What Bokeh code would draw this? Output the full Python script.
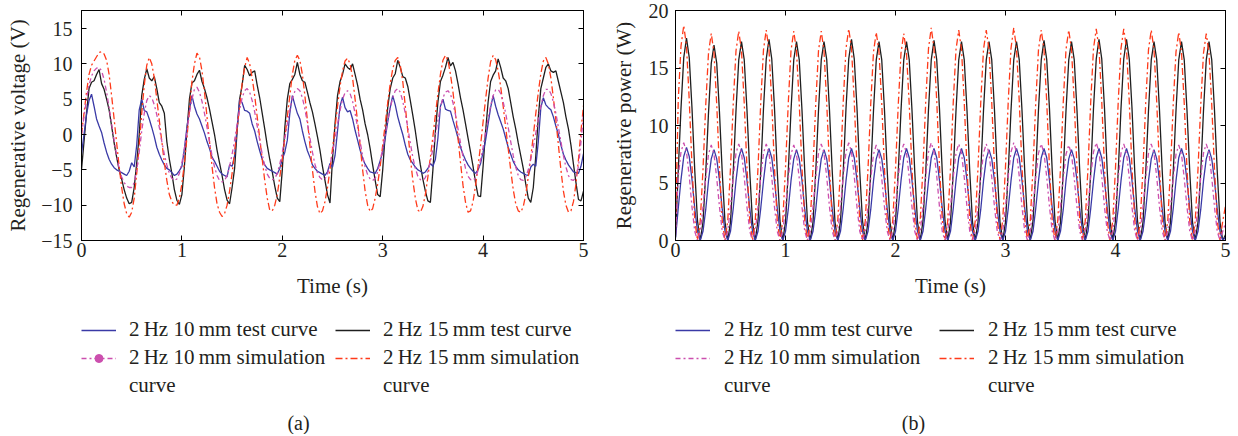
from bokeh.plotting import figure
from bokeh.layouts import row, column
from bokeh.models import (ColumnDataSource, Range1d, FixedTicker, LinearAxis,
                          Legend, LegendItem, Label)
from bokeh.embed import file_html
from bokeh.resources import INLINE

# ---------------- data ----------------
TIME = [round(0.025 * i, 3) for i in range(201)]   # s, sampling grid

# (a) regenerative voltage, V
V_TEST_10 = [
    -2.7, 0, 2.8, 4.8, 5.7, 4, 2.2, 1.2, 0.3, -1.2, -2.5, -3.5, -4.2, -4.7, -5, -5.2, -5.4, -5.6, -5.8, -5.2,
    -4.0, -4.6, -1.5, 3.5, 5.0, 3.4, 3.2, 2.2, 1, -0.3, -1.8, -2.8, -3.6, -4.3, -4.8, -5.0, -5.4, -5.8, -5.6, -5.1,
    -4.5, -2, 1, 3.5, 5.5, 4, 2.9, 2.2, 1.2, 0.2, -1, -2, -3.2, -3.8, -4.5, -5.2, -5.6, -5.8, -6, -4.3,
    -4.5, -3, 1, 5, 4.5, 3.4, 3.3, 3.0, 1.5, 0.5, -1, -2.3, -3.5, -4.3, -4.8, -5.0, -5.2, -5.4, -5.6, -4.8,
    -3.5, -2.5, -0.8, 3, 5.5, 4.2, 3, 2.2, 0.5, -1, -2.3, -3.2, -4.3, -4.8, -5.2, -5.4, -5.6, -5.8, -5.3, -4.1,
    -4.6, -3, 0.5, 4, 5.3, 3.8, 3.2, 3.4, 2.2, 0.6, -0.8, -2.2, -3.4, -4.2, -4.8, -5.3, -5.4, -5.5, -4.8, -3.7,
    -2.5, -0.5, 1.8, 3.8, 5.5, 4.2, 2.5, 1.2, 0, -1.5, -2.8, -3.6, -4.1, -4.6, -5, -5.2, -5.5, -5.3, -4.8, -4.1,
    -4.5, -3.5, -0.5, 4, 5.0, 3.6, 3.4, 3.3, 2, 0.8, -0.5, -1.8, -2.8, -3.6, -4.3, -4.8, -5.2, -5.5, -5, -4.1,
    -2.5, -0.8, 1.5, 3.8, 5.5, 4, 2.8, 1.8, 0.8, -0.5, -1.8, -2.8, -3.8, -4.5, -5, -5.3, -5.5, -5.7, -5.8, -4.6,
    -4.2, -4.5, -1, 3.8, 5.2, 4.2, 3.8, 3.5, 2.5, 1.2, 0, -1.5, -2.8, -3.6, -4.3, -4.8, -5.3, -5.4, -5.5, -4.5,
    -2.7]
V_SIM_10 = [
    0, 2.5, 5, 7, 8.3, 9, 9.4, 9.5, 9, 7.8, 6, 3.8, 1.5, -0.8, -3, -4.8, -6, -6.8, -7.3, -7.5,
    -7.5, -6.8, -5, -2.5, 0.5, 3, 4.8, 5.5, 5.2, 4.2, 2.8, 1, -1, -2.8, -4.3, -5.5, -6.2, -6.5, -6.3, -5.5,
    -4, -2, 0.5, 3, 5, 6.4, 6.7, 6, 4.7, 3, 1, -1, -3, -4.6, -5.8, -6.5, -6.7, -6.5, -5.8, -4.5,
    -2.8, -0.8, 1.5, 3.5, 5.2, 6.2, 6.5, 6, 4.8, 3.2, 1.2, -0.8, -2.8, -4.4, -5.6, -6.2, -6.4, -6.2, -5.5, -4.2,
    -2.5, -0.5, 1.5, 3.5, 5.1, 6.1, 6.5, 6.2, 5.2, 3.6, 1.6, -0.5, -2.5, -4.2, -5.4, -6.1, -6.4, -6.3, -5.6, -4.3,
    -2.6, -0.6, 1.5, 3.4, 5, 5.9, 6.2, 5.8, 4.7, 3, 1, -1, -3, -4.6, -5.7, -6.3, -6.5, -6.2, -5.3, -3.8,
    -2, 0, 2, 3.8, 5.2, 6.2, 6.5, 6, 4.7, 3, 1, -1.2, -3.2, -4.8, -5.9, -6.4, -6.5, -6.1, -5.2, -3.8,
    -2, 0, 2, 3.8, 5.2, 6, 6.2, 5.7, 4.5, 2.8, 0.8, -1.2, -3.2, -4.8, -5.9, -6.4, -6.5, -6.1, -5.1, -3.6,
    -1.8, 0.3, 2.3, 4.1, 5.5, 6.3, 6.4, 5.8, 4.6, 3, 1, -1, -3, -4.6, -5.8, -6.4, -6.5, -6, -5, -3.5,
    -1.8, 0.2, 2.2, 4, 5.5, 6.4, 6.4, 5.8, 4.6, 3, 1, -1, -3, -4.6, -5.8, -6.4, -6.5, -6, -4.5, -1,
    2.9]
V_TEST_15 = [
    -5, -1, 3, 6.5, 7.4, 7.6, 8.5, 9.2, 7.2, 6.4, 5.0, 3.5, 1.2, -1.2, -3.2, -5, -6.3, -7.8, -9, -9.8,
    -9.6, -7.5, -4, 0, 5.5, 7.8, 9.3, 8.0, 7.6, 8.2, 6.5, 4.5, 4.0, 3.0, -1, -3.5, -5.5, -7.8, -9.3, -9.9,
    -8.5, -4.5, 0.5, 5, 7.3, 7.6, 8.5, 9.1, 7.5, 6.5, 5.2, 3.6, 1.8, 0, -2.2, -4, -5.8, -7.8, -9.3, -9.8,
    -7.5, -4.8, 0.5, 5, 7, 9.8, 9.2, 8.3, 8.8, 9.0, 7, 5.2, 3, 0.8, -1.5, -3.5, -5.3, -7.3, -9, -9.5,
    -5, 1, 5, 7.2, 7.8, 8.5, 10.2, 8.5, 7.6, 7.4, 6, 4.5, 3.2, 1.5, -0.3, -2.2, -4.5, -6.5, -8.5, -9.7,
    -3.5, 1.5, 5.5, 7.5, 8.5, 10, 9.5, 9.2, 10, 8.5, 7, 5, 3.5, 1.5, 0, -2, -4.3, -6.5, -8.5, -8.8,
    -5, 0, 3.8, 6.5, 8.0, 8.6, 10.5, 9.5, 8.2, 8.0, 6.8, 4.8, 2.7, 0.5, -2, -4.3, -6.3, -8, -9.4, -9.6,
    -5, 0.5, 4.6, 7.5, 8.4, 9.5, 10.9, 9.7, 10.2, 9, 7.2, 5.2, 3.5, 1.5, -0.5, -2.5, -4.5, -6.8, -8.7, -8.8,
    -4.5, 0.5, 4.6, 7.5, 8.4, 9, 10.7, 9.5, 8, 7.6, 6.5, 4.5, 2.5, 0.8, -1.2, -3, -4.8, -7, -9, -9.6,
    -7.5, -3, 2.5, 6.5, 8, 9.5, 10, 9, 8.8, 9, 7.5, 6, 4.5, 2.5, 0.8, -1.5, -4.2, -6.8, -9.2, -9.4,
    -8]
V_SIM_15 = [
    0, 3, 6, 8.5, 9.8, 10.4, 11, 11.6, 11.7, 11.4, 10.5, 8.5, 5.5, 2.2, -1.2, -4.5, -7.5, -9.8, -11.2, -11.7,
    -11, -9, -5.5, -1.5, 3, 7, 9.8, 10.9, 10, 8, 5, 2, -1, -4, -6.5, -8.5, -9.5, -10, -10, -9,
    -7, -4, -0.5, 3.5, 7.5, 10, 11.5, 11, 9, 6, 2.5, -1, -4.5, -7.5, -9.8, -11, -11.6, -11.2, -10, -8,
    -5.5, -2.5, 0.8, 4, 7.2, 9.5, 10.9, 10, 8, 5.5, 2.5, -0.5, -3.5, -6.5, -9, -10.7, -10.8, -10, -8.5, -6,
    -3.5, -0.5, 2.5, 5.5, 8.5, 10.5, 11.2, 10.5, 8.5, 5.5, 2, -1.5, -5, -8, -10.2, -11.2, -10.8, -9.5, -7.5, -5,
    -2, 1, 4, 6.8, 9, 10.4, 10.8, 10, 8, 5, 1.8, -1.5, -5, -8, -10, -10.9, -10.5, -9, -7, -4.5,
    -1.5, 1.5, 4.5, 7.2, 9.3, 10.5, 10.9, 9.8, 7.5, 4, 0.5, -3.2, -6.5, -9, -10.7, -11, -10.2, -8.5, -6, -3.2,
    -0.3, 2.8, 5.8, 8.5, 10.5, 11.2, 10.5, 8.5, 6, 3, -0.5, -4, -7.2, -9.6, -11, -10.8, -9.5, -7.2, -4.5, -1.5,
    1.8, 5, 8, 10.3, 11.2, 10.6, 9, 6.8, 4, 1, -2, -5, -7.8, -9.8, -10.8, -11, -10.2, -8.5, -6, -3.2,
    -0.2, 3, 6, 8.6, 10.4, 10.9, 10, 8, 5.2, 2, -1.5, -5, -8, -10, -11, -10.8, -9.5, -7, -3.5, 0.5,
    4.1]

# (b) regenerative power, W
P_TEST_10 = [
    0.2, 2.8, 5.3, 7.3, 8.1, 7.3, 5.3, 2.8, 0.8, 0,
    0.8, 2.7, 5.2, 7.1, 7.9, 7.1, 5.2, 2.7, 0.8, 0,
    0.8, 2.8, 5.2, 7.2, 8.0, 7.2, 5.2, 2.8, 0.8, 0,
    0.8, 2.8, 5.2, 7.2, 8.0, 7.2, 5.2, 2.8, 0.8, 0,
    0.8, 2.7, 5.2, 7.1, 7.9, 7.1, 5.2, 2.7, 0.8, 0,
    0.8, 2.7, 5.2, 7.1, 7.9, 7.1, 5.2, 2.7, 0.8, 0,
    0.8, 2.8, 5.2, 7.2, 8.0, 7.2, 5.2, 2.8, 0.8, 0,
    0.8, 2.7, 5.2, 7.1, 7.9, 7.1, 5.2, 2.7, 0.8, 0,
    0.8, 2.8, 5.2, 7.2, 8.0, 7.2, 5.2, 2.8, 0.8, 0,
    0.8, 2.8, 5.2, 7.2, 8.0, 7.2, 5.2, 2.8, 0.8, 0,
    0.8, 2.8, 5.2, 7.2, 8.0, 7.2, 5.2, 2.8, 0.8, 0,
    0.8, 2.7, 5.2, 7.1, 7.9, 7.1, 5.2, 2.7, 0.8, 0,
    0.8, 2.8, 5.2, 7.2, 8.0, 7.2, 5.2, 2.8, 0.8, 0,
    0.8, 2.8, 5.2, 7.2, 8.0, 7.2, 5.2, 2.8, 0.8, 0,
    0.8, 2.7, 5.2, 7.1, 7.9, 7.1, 5.2, 2.7, 0.8, 0,
    0.8, 2.8, 5.2, 7.2, 8.0, 7.2, 5.2, 2.8, 0.8, 0,
    0.8, 2.8, 5.2, 7.2, 8.0, 7.2, 5.2, 2.8, 0.8, 0,
    0.8, 2.7, 5.2, 7.1, 7.9, 7.1, 5.2, 2.7, 0.8, 0,
    0.8, 2.8, 5.2, 7.2, 8.0, 7.2, 5.2, 2.8, 0.8, 0,
    0.8, 2.7, 5.2, 7.1, 7.9, 7.1, 5.2, 2.7, 0.8, 0,
    0.3]
P_SIM_10 = [
    0.5, 5.6, 7.7, 8.5, 7.7, 5.6, 2.9, 0.8, 0, 0.8,
    2.9, 5.4, 7.5, 8.3, 7.5, 5.4, 2.9, 0.8, 0, 0.8,
    2.9, 5.5, 7.6, 8.4, 7.6, 5.5, 2.9, 0.8, 0, 0.8,
    2.9, 5.5, 7.6, 8.4, 7.6, 5.5, 2.9, 0.8, 0, 0.8,
    2.9, 5.4, 7.5, 8.3, 7.5, 5.4, 2.9, 0.8, 0, 0.8,
    2.9, 5.5, 7.6, 8.4, 7.6, 5.5, 2.9, 0.8, 0, 0.8,
    2.9, 5.6, 7.7, 8.5, 7.7, 5.6, 2.9, 0.8, 0, 0.8,
    2.9, 5.4, 7.5, 8.3, 7.5, 5.4, 2.9, 0.8, 0, 0.8,
    2.9, 5.5, 7.6, 8.4, 7.6, 5.5, 2.9, 0.8, 0, 0.8,
    2.9, 5.6, 7.7, 8.5, 7.7, 5.6, 2.9, 0.8, 0, 0.8,
    2.9, 5.5, 7.6, 8.4, 7.6, 5.5, 2.9, 0.8, 0, 0.8,
    2.9, 5.5, 7.6, 8.4, 7.6, 5.5, 2.9, 0.8, 0, 0.8,
    2.9, 5.6, 7.7, 8.5, 7.7, 5.6, 2.9, 0.8, 0, 0.8,
    2.9, 5.5, 7.6, 8.4, 7.6, 5.5, 2.9, 0.8, 0, 0.8,
    2.9, 5.4, 7.5, 8.3, 7.5, 5.4, 2.9, 0.8, 0, 0.8,
    2.9, 5.6, 7.7, 8.5, 7.7, 5.6, 2.9, 0.8, 0, 0.8,
    2.9, 5.5, 7.6, 8.4, 7.6, 5.5, 2.9, 0.8, 0, 0.8,
    2.9, 5.5, 7.6, 8.4, 7.6, 5.5, 2.9, 0.8, 0, 0.8,
    2.9, 5.4, 7.5, 8.3, 7.5, 5.4, 2.9, 0.8, 0, 0.8,
    2.9, 5.5, 7.6, 8.4, 7.6, 5.5, 2.9, 0.8, 0, 0.8,
    1.5]
P_TEST_15 = [
    0.3, 6.1, 11.5, 15.9, 17.6, 15.9, 11.5, 6.1, 1.7, 0,
    1.6, 5.9, 11.1, 15.4, 17.0, 15.4, 11.1, 5.9, 1.6, 0,
    1.6, 6.0, 11.3, 15.7, 17.3, 15.7, 11.3, 6.0, 1.6, 0,
    1.7, 6.0, 11.5, 15.8, 17.5, 15.8, 11.5, 6.0, 1.7, 0,
    1.6, 6.0, 11.3, 15.7, 17.3, 15.7, 11.3, 6.0, 1.6, 0,
    1.6, 6.0, 11.3, 15.7, 17.3, 15.7, 11.3, 6.0, 1.6, 0,
    1.7, 6.0, 11.5, 15.8, 17.5, 15.8, 11.5, 6.0, 1.7, 0,
    1.6, 6.0, 11.3, 15.7, 17.3, 15.7, 11.3, 6.0, 1.6, 0,
    1.6, 6.0, 11.3, 15.7, 17.3, 15.7, 11.3, 6.0, 1.6, 0,
    1.7, 6.0, 11.4, 15.7, 17.4, 15.7, 11.4, 6.0, 1.7, 0,
    1.6, 6.0, 11.3, 15.7, 17.3, 15.7, 11.3, 6.0, 1.6, 0,
    1.6, 6.0, 11.3, 15.7, 17.3, 15.7, 11.3, 6.0, 1.6, 0,
    1.6, 6.0, 11.3, 15.7, 17.3, 15.7, 11.3, 6.0, 1.6, 0,
    1.7, 6.0, 11.4, 15.7, 17.4, 15.7, 11.4, 6.0, 1.7, 0,
    1.6, 6.0, 11.3, 15.7, 17.3, 15.7, 11.3, 6.0, 1.6, 0,
    1.7, 6.0, 11.5, 15.8, 17.5, 15.8, 11.5, 6.0, 1.7, 0,
    1.7, 6.0, 11.5, 15.8, 17.5, 15.8, 11.5, 6.0, 1.7, 0,
    1.6, 6.0, 11.3, 15.7, 17.3, 15.7, 11.3, 6.0, 1.6, 0,
    1.6, 6.0, 11.3, 15.7, 17.3, 15.7, 11.3, 6.0, 1.6, 0,
    1.6, 6.0, 11.3, 15.7, 17.3, 15.7, 11.3, 6.0, 1.6, 0,
    0.5]
P_SIM_15 = [
    1.0, 12.2, 16.9, 18.7, 16.9, 12.2, 6.5, 1.8, 0, 1.7,
    6.2, 11.8, 16.3, 18.0, 16.3, 11.8, 6.2, 1.7, 0, 1.7,
    6.3, 11.9, 16.5, 18.2, 16.5, 11.9, 6.3, 1.7, 0, 1.7,
    6.3, 12.0, 16.6, 18.3, 16.6, 12.0, 6.3, 1.7, 0, 1.7,
    6.3, 11.9, 16.5, 18.2, 16.5, 11.9, 6.3, 1.7, 0, 1.7,
    6.3, 11.9, 16.5, 18.2, 16.5, 11.9, 6.3, 1.7, 0, 1.7,
    6.3, 12.1, 16.7, 18.4, 16.7, 12.1, 6.3, 1.7, 0, 1.7,
    6.2, 11.9, 16.4, 18.1, 16.4, 11.9, 6.2, 1.7, 0, 1.7,
    6.2, 11.8, 16.3, 18.0, 16.3, 11.8, 6.2, 1.7, 0, 1.8,
    6.4, 12.1, 16.7, 18.5, 16.7, 12.1, 6.4, 1.8, 0, 1.7,
    6.3, 12.0, 16.6, 18.3, 16.6, 12.0, 6.3, 1.7, 0, 1.7,
    6.3, 12.0, 16.6, 18.3, 16.6, 12.0, 6.3, 1.7, 0, 1.8,
    6.4, 12.1, 16.7, 18.5, 16.7, 12.1, 6.4, 1.8, 0, 1.7,
    6.3, 12.0, 16.6, 18.3, 16.6, 12.0, 6.3, 1.7, 0, 1.7,
    6.3, 12.0, 16.6, 18.3, 16.6, 12.0, 6.3, 1.7, 0, 1.7,
    6.3, 12.1, 16.7, 18.4, 16.7, 12.1, 6.3, 1.7, 0, 1.7,
    6.3, 12.1, 16.7, 18.4, 16.7, 12.1, 6.3, 1.7, 0, 1.7,
    6.3, 12.0, 16.6, 18.3, 16.6, 12.0, 6.3, 1.7, 0, 1.7,
    6.2, 11.9, 16.4, 18.1, 16.4, 11.9, 6.2, 1.7, 0, 1.7,
    6.2, 11.8, 16.3, 18.0, 16.3, 11.8, 6.2, 1.7, 0, 1.7,
    3.0]

X_TICKS = [0, 1, 2, 3, 4, 5]
V_TICKS = [-15, -10, -5, 0, 5, 10, 15]
P_TICKS = [0, 5, 10, 15, 20]

LABEL_10_TEST = "2\u2009Hz 10\u2009mm test curve"
LABEL_15_TEST = "2\u2009Hz 15\u2009mm test curve"
LABEL_10_SIM = "2\u2009Hz 10\u2009mm simulation"
LABEL_15_SIM = "2\u2009Hz 15\u2009mm simulation"
LABEL_WRAP = "curve"          # second line of the simulation entries

# ---------------- styling ----------------
FONT = "Liberation Serif"
TXT = "#231f20"
C_BLUE = "#3a3aa6"
C_BLACK = "#1e1e1e"
C_MAG = "#cc4fae"
C_RED = "#ff3a1a"
DASH_RED = "7 3 2 3"
DASH_MAG = "5 3 2 3"
LW = 1.3
PLOT_H = 310
LEG_H = 124


def style_axis(ax, ticks, overrides=None, labels=True):
    ax.ticker = FixedTicker(ticks=ticks)
    ax.major_tick_in = 5
    ax.major_tick_out = 0
    ax.minor_tick_in = 0
    ax.minor_tick_out = 0
    ax.axis_line_color = "black"
    ax.major_tick_line_color = "black"
    ax.major_label_text_font = FONT
    ax.major_label_text_color = TXT
    ax.axis_label_text_font = FONT
    ax.axis_label_text_font_style = "normal"
    ax.axis_label_text_color = TXT
    ax.axis_label_text_font_size = "21px"
    if labels:
        ax.major_label_text_font_size = "20px"
        if overrides:
            ax.major_label_overrides = overrides
    else:
        ax.major_label_text_font_size = "1px"
        ax.major_label_standoff = 0
        ax.major_label_overrides = {t: "" for t in ticks}


def make_panel(width, border_left, border_right, y_lo, y_hi, y_ticks, y_over,
               y_label, y_standoff, y_lab_standoff, series):
    p = figure(width=width, height=PLOT_H, output_backend="svg", toolbar_location=None,
               x_range=Range1d(0, 5), y_range=Range1d(y_lo, y_hi),
               min_border_left=border_left, min_border_right=border_right,
               min_border_top=10, min_border_bottom=PLOT_H - 240,
               background_fill_color="white", border_fill_color="white")
    p.grid.visible = False
    p.outline_line_color = "black"
    p.outline_line_width = 1
    p.outline_line_alpha = 1

    style_axis(p.xaxis[0], X_TICKS)
    p.xaxis[0].axis_label = "Time (s)"
    p.xaxis[0].major_label_standoff = 2
    p.xaxis[0].axis_label_standoff = 14
    style_axis(p.yaxis[0], y_ticks, y_over)
    p.yaxis[0].axis_label = y_label
    p.yaxis[0].major_label_standoff = y_standoff
    p.yaxis[0].axis_label_standoff = y_lab_standoff

    top = LinearAxis()
    style_axis(top, X_TICKS, labels=False)
    p.add_layout(top, "above")
    right = LinearAxis()
    style_axis(right, y_ticks, labels=False)
    p.add_layout(right, "right")

    for vals, color, dash in series:
        src = ColumnDataSource(data=dict(t=TIME, v=vals))
        p.line("t", "v", source=src, line_color=color, line_width=LW, line_dash=dash)
    return p


def make_legend_box(width, border_left, standoff, label_width, caption, cap_x, dot_marker):
    """Legend and caption row under a panel; its key glyphs copy the panel's line styles
    (the proxy renderers sit outside this box's visible range, so only the key shows)."""
    q = figure(width=width, height=LEG_H, output_backend="svg", toolbar_location=None,
               x_range=Range1d(0, 1), y_range=Range1d(0, 1),
               x_axis_type=None, y_axis_type=None,
               min_border_left=border_left, min_border_right=0,
               min_border_top=7, min_border_bottom=0,
               background_fill_color="white", border_fill_color="white")
    q.grid.visible = False
    q.outline_line_color = None

    def proxy_src():
        return ColumnDataSource(data=dict(x=[5, 6], y=[5, 5]))

    def proxy(color, dash, alpha=1.0):
        return q.line("x", "y", source=proxy_src(), line_color=color,
                      line_width=LW, line_dash=dash, line_alpha=alpha)

    r_b = proxy(C_BLUE, "solid")
    r_m = [proxy(C_MAG, DASH_MAG)]
    if dot_marker:
        r_m.append(q.scatter("x", "y", source=proxy_src(), marker="circle", size=4,
                             fill_color=C_MAG, line_color=C_MAG))
    r_k = proxy(C_BLACK, "solid")
    r_r = proxy(C_RED, DASH_RED)
    r_blank = proxy("white", "solid", alpha=0.0)

    items = [
        LegendItem(label=LABEL_10_TEST, renderers=[r_b]),
        LegendItem(label=LABEL_10_SIM, renderers=r_m),
        LegendItem(label=LABEL_WRAP, renderers=[r_blank]),
        LegendItem(label=LABEL_15_TEST, renderers=[r_k]),
        LegendItem(label=LABEL_15_SIM, renderers=[r_r]),
        LegendItem(label=LABEL_WRAP, renderers=[r_blank]),
    ]
    leg = Legend(items=items, location="top_left", orientation="vertical", ncols=2,
                 label_text_font=FONT, label_text_font_size="21px",
                 label_text_color=TXT,
                 glyph_width=35, glyph_height=20, label_standoff=standoff,
                 label_height=23, label_width=label_width, spacing=3,
                 padding=0, margin=0, border_line_color=None,
                 background_fill_alpha=0)
    q.add_layout(leg)
    q.add_layout(Label(x=cap_x, y=12, x_units="screen", y_units="screen",
                       text=caption, text_align="center", text_baseline="middle",
                       text_font=FONT, text_font_size="20px", text_color=TXT))
    return q


minus = {-15: "\u221215", -10: "\u221210", -5: "\u22125"}

plot_a = make_panel(
    width=600, border_left=81, border_right=17, y_lo=-15, y_hi=17.55,
    y_ticks=V_TICKS, y_over=minus, y_label="Regenerative voltage (V)",
    y_standoff=9, y_lab_standoff=8,
    series=[(V_TEST_15, C_BLACK, "solid"), (V_TEST_10, C_BLUE, "solid"),
            (V_SIM_15, C_RED, DASH_RED), (V_SIM_10, C_MAG, DASH_MAG)])
leg_a = make_legend_box(600, 80, 13, 203, "(a)", 217, True)

plot_b = make_panel(
    width=636, border_left=75, border_right=11, y_lo=0, y_hi=20,
    y_ticks=P_TICKS, y_over=None, y_label="Regenerative power (W)",
    y_standoff=7, y_lab_standoff=10,
    series=[(P_TEST_15, C_BLACK, "solid"), (P_TEST_10, C_BLUE, "solid"),
            (P_SIM_15, C_RED, DASH_RED), (P_SIM_10, C_MAG, DASH_MAG)])
leg_b = make_legend_box(636, 72, 14, 212, "(b)", 238, False)

layout = row(column(plot_a, leg_a), column(plot_b, leg_b))
open("out.html", "w").write(file_html(layout, INLINE))
